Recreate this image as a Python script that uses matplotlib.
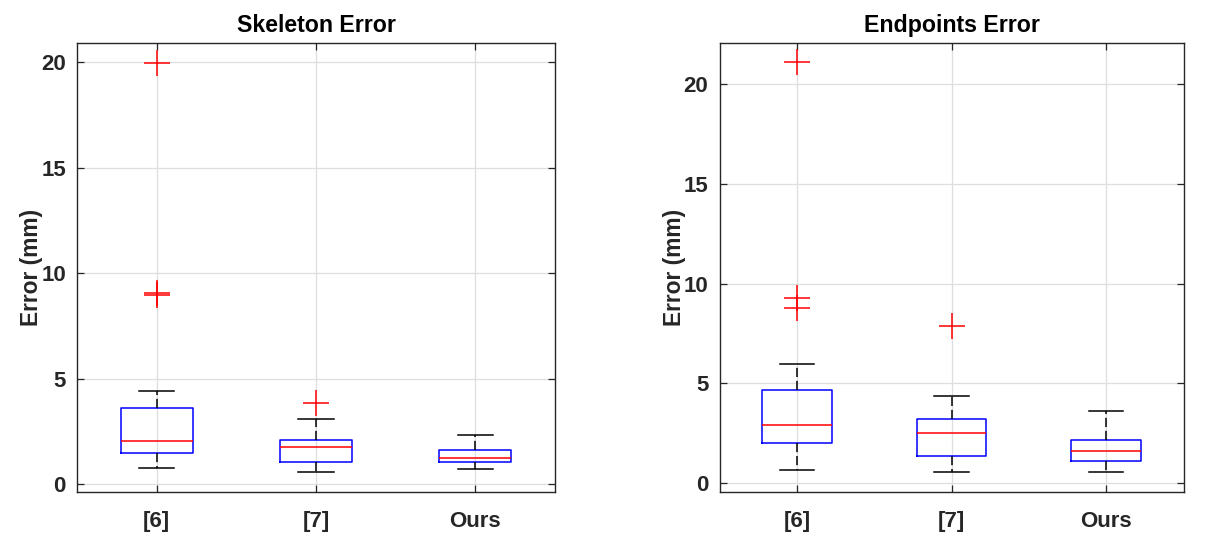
import matplotlib
matplotlib.use("Agg")
import matplotlib.pyplot as plt

plt.rcParams['font.family'] = ['Liberation Sans', 'DejaVu Sans']

categories = ["[6]", "[7]", "Ours"]

# Skeleton Error summary stats
skel_whislo = [0.78, 0.58, 0.72]
skel_q1 = [1.49, 1.05, 1.08]
skel_med = [2.06, 1.77, 1.24]
skel_q3 = [3.60, 2.12, 1.65]
skel_whishi = [4.42, 3.10, 2.36]
skel_fliers = [[19.97, 9.08, 8.95], [3.87], []]

# Endpoints Error summary stats
endp_whislo = [0.66, 0.56, 0.56]
endp_q1 = [2.02, 1.38, 1.10]
endp_med = [2.92, 2.53, 1.63]
endp_q3 = [4.66, 3.23, 2.18]
endp_whishi = [5.99, 4.36, 3.63]
endp_fliers = [[21.1, 9.27, 8.77], [7.86], []]

yticks = [0, 5, 10, 15, 20]


def make_stats(lo, q1, med, q3, hi, fl):
    return [dict(label=c, whislo=a, q1=b, med=m, q3=d, whishi=e, fliers=f)
            for c, a, b, m, d, e, f in zip(categories, lo, q1, med, q3, hi, fl)]


fig = plt.figure(figsize=(12.07, 5.36), dpi=100)
ax1 = fig.add_axes([77 / 1207, 44 / 536, 478 / 1207, 449 / 536])
ax2 = fig.add_axes([719.5 / 1207, 44 / 536, 464 / 1207, 449 / 536])

tick_color = '#262626'

panels = [
    (ax1, make_stats(skel_whislo, skel_q1, skel_med, skel_q3, skel_whishi, skel_fliers),
     "Skeleton Error", (-0.36, 20.9)),
    (ax2, make_stats(endp_whislo, endp_q1, endp_med, endp_q3, endp_whishi, endp_fliers),
     "Endpoints Error", (-0.44, 22.07)),
]

for ax, stats, title, ylim in panels:
    ax.bxp(stats, positions=[1, 2, 3], widths=0.45, capwidths=0.22,
           boxprops=dict(color='blue', linewidth=1.1),
           medianprops=dict(color='red', linewidth=1.1),
           whiskerprops=dict(color='black', linewidth=1.1, linestyle=(0, (6, 2.5))),
           capprops=dict(color='black', linewidth=1.1),
           flierprops=dict(marker='+', markersize=19, markeredgecolor='red',
                           markeredgewidth=1.1, linestyle='none'))
    ax.set_xlim(0.5, 3.5)
    ax.set_ylim(*ylim)
    ax.set_yticks(yticks)
    ax.set_xticks([1, 2, 3])
    ax.set_xticklabels(categories)
    ax.grid(True, color='#dedede', linewidth=0.9)
    ax.set_axisbelow(True)
    ax.tick_params(direction='in', top=True, right=True, length=5,
                   width=0.9, colors=tick_color, labelsize=16)
    ax.tick_params(axis='x', pad=14)
    ax.tick_params(axis='y', pad=8)
    for lab in ax.get_xticklabels() + ax.get_yticklabels():
        lab.set_fontweight('bold')
        lab.set_color(tick_color)
    for s in ax.spines.values():
        s.set_color(tick_color)
        s.set_linewidth(1.0)
    ax.set_title(title, fontsize=16.7, fontweight='bold', color='black', pad=8)
    ax.set_ylabel("Error (mm)", fontsize=16.4, fontweight='bold', color=tick_color, labelpad=-1.5)

fig.savefig("out.png", dpi=100)
